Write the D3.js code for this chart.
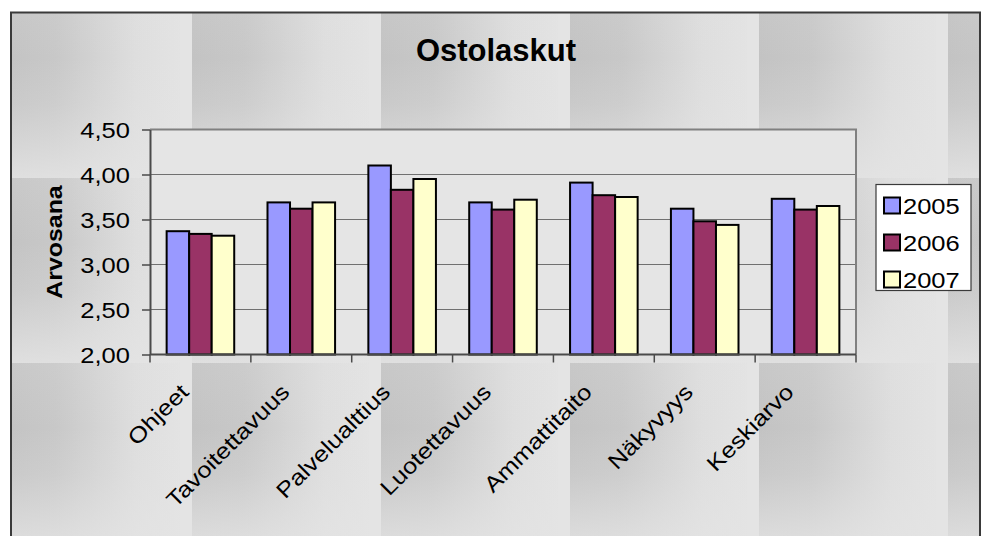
<!DOCTYPE html>
<html>
<head>
<meta charset="utf-8">
<script src="https://cdn.jsdelivr.net/npm/d3@7"></script>
<style>
  html, body { margin: 0; padding: 0; background: #ffffff; }
  svg { display: block; }
  text { font-family: "Liberation Sans", Arial, sans-serif; fill: #000; }
</style>
</head>
<body>
<svg id="chart" width="990" height="536"></svg>
<script>
const titleText = "Ostolaskut";
const yAxisTitle = "Arvosana";
const categories = ["Ohjeet", "Tavoitettavuus", "Palvelualttius", "Luotettavuus", "Ammattitaito", "Näkyvyys", "Keskiarvo"];
const seriesNames = ["2005", "2006", "2007"];
const values2005 = [3.37, 3.69, 4.10, 3.69, 3.91, 3.62, 3.73];
const values2006 = [3.34, 3.62, 3.83, 3.61, 3.77, 3.48, 3.61];
const values2007 = [3.32, 3.69, 3.95, 3.72, 3.75, 3.44, 3.65];
const yTicks = [2.0, 2.5, 3.0, 3.5, 4.0, 4.5];
const seriesColors = ["#9999ff", "#993366", "#ffffcc"];

const seriesValues = [values2005, values2006, values2007];
const rows = categories.map((c, i) => ({
  cat: c,
  vals: seriesNames.map((s, j) => ({ s, j, v: seriesValues[j][i] }))
}));

const svg = d3.select("#chart");
const defs = svg.append("defs");

// background texture tile
const hg = defs.append("linearGradient").attr("id", "tileH")
  .attr("x1", 0).attr("y1", 0).attr("x2", 1).attr("y2", 0);
hg.append("stop").attr("offset", 0).attr("stop-color", "#c3c3c3");
hg.append("stop").attr("offset", 0.3).attr("stop-color", "#c8c8c8");
hg.append("stop").attr("offset", 0.75).attr("stop-color", "#dedede");
hg.append("stop").attr("offset", 1).attr("stop-color", "#e3e3e3");
const vg = defs.append("linearGradient").attr("id", "tileV")
  .attr("x1", 0).attr("y1", 0).attr("x2", 0).attr("y2", 1);
vg.append("stop").attr("offset", 0).attr("stop-color", "#e4e4e4").attr("stop-opacity", 0.15);
vg.append("stop").attr("offset", 0.35).attr("stop-color", "#e4e4e4").attr("stop-opacity", 0);
vg.append("stop").attr("offset", 0.6).attr("stop-color", "#e4e4e4").attr("stop-opacity", 0.2);
vg.append("stop").attr("offset", 1).attr("stop-color", "#e4e4e4").attr("stop-opacity", 0.85);
const pat = defs.append("pattern").attr("id", "bgTile")
  .attr("patternUnits", "userSpaceOnUse")
  .attr("x", 3).attr("y", -7).attr("width", 189).attr("height", 185);
pat.append("rect").attr("width", 189).attr("height", 185).attr("fill", "#e4e4e4");
pat.append("rect").attr("width", 177).attr("height", 185).attr("fill", "url(#tileH)");
pat.append("rect").attr("width", 177).attr("height", 185).attr("fill", "url(#tileV)");

// chart area
svg.append("rect").attr("x", 0).attr("y", 0).attr("width", 990).attr("height", 536).attr("fill", "#ffffff");
svg.append("rect").attr("x", 11).attr("y", 12.5).attr("width", 969).attr("height", 540)
  .attr("fill", "url(#bgTile)").attr("stroke", "#3a3a3a").attr("stroke-width", 2);

const pLeft = 150, pRight = 856, pTop = 129.5, pBottom = 354.5;

const x = d3.scaleBand().domain(categories).range([pLeft, pRight]).paddingInner(0.33).paddingOuter(0.165);
const xSub = d3.scaleBand().domain(seriesNames).range([0, x.bandwidth()]);
const y = d3.scaleLinear().domain([2, 4.5]).range([pBottom, pTop]);

// plot area
svg.append("rect").attr("x", pLeft).attr("y", pTop).attr("width", pRight - pLeft).attr("height", pBottom - pTop)
  .attr("fill", "#e5e5e5");

// gridlines
svg.append("g").selectAll("line").data(yTicks.filter(d => d > 2)).join("line")
  .attr("x1", pLeft).attr("x2", pRight)
  .attr("y1", d => y(d)).attr("y2", d => y(d))
  .attr("stroke", "#707070").attr("stroke-width", 1.2);

// plot border top/right
svg.append("path")
  .attr("d", `M${pLeft},${pTop}H${pRight}V${pBottom}`)
  .attr("fill", "none").attr("stroke", "#808080").attr("stroke-width", 2);

// bars
const groups = svg.append("g").selectAll("g").data(rows).join("g")
  .attr("transform", d => `translate(${x(d.cat)},0)`);
groups.selectAll("rect").data(d => d.vals).join("rect")
  .attr("x", d => xSub(d.s))
  .attr("width", xSub.bandwidth())
  .attr("y", d => y(d.v))
  .attr("height", d => y(2) - y(d.v))
  .attr("fill", d => seriesColors[d.j])
  .attr("stroke", "#000").attr("stroke-width", 2);

// y axis
const yAxis = svg.append("g").attr("transform", `translate(${pLeft},0)`)
  .call(d3.axisLeft(y).tickValues(yTicks).tickSize(8).tickSizeOuter(0)
    .tickFormat(d => d.toFixed(2).replace(".", ",")));
yAxis.select(".domain").attr("stroke", "#4a4a4a").attr("stroke-width", 2);
yAxis.selectAll(".tick line").attr("stroke", "#4a4a4a").attr("stroke-width", 1.5);
yAxis.selectAll(".tick text")
  .attr("x", null).attr("dy", null)
  .attr("font-size", 22).attr("text-anchor", "end")
  .attr("transform", "translate(-20,8) scale(1.16,1)")
  .style("font-family", "'Liberation Sans', Arial, sans-serif");

// x axis
const xAxis = svg.append("g").attr("transform", `translate(0,${pBottom})`);
xAxis.append("line").attr("x1", pLeft).attr("x2", pRight).attr("y1", 0).attr("y2", 0)
  .attr("stroke", "#4a4a4a").attr("stroke-width", 2);
const boundaries = d3.range(categories.length + 1).map(i => pLeft + i * x.step());
xAxis.selectAll("line.tk").data(boundaries).join("line").attr("class", "tk")
  .attr("x1", d => d).attr("x2", d => d).attr("y1", 0).attr("y2", 8)
  .attr("stroke", "#4a4a4a").attr("stroke-width", 1.5);

svg.append("g").selectAll("text").data(categories).join("text")
  .attr("transform", d => `translate(${x(d) + x.bandwidth() / 2 - 10.5},${pBottom + 39}) rotate(-45) scale(1.16,1)`)
  .attr("text-anchor", "end")
  .attr("font-size", 22)
  .text(d => d);

// y axis title
svg.append("text")
  .attr("transform", "translate(62,242) rotate(-90) scale(1.13,1)")
  .attr("text-anchor", "middle")
  .attr("font-size", 22).attr("font-weight", "bold")
  .text(yAxisTitle);

// title
svg.append("text").attr("x", 496).attr("y", 60.5)
  .attr("text-anchor", "middle").attr("font-size", 31).attr("font-weight", "bold")
  .text(titleText);

// legend
const lg = svg.append("g");
lg.append("rect").attr("x", 876).attr("y", 184.5).attr("width", 95).attr("height", 106)
  .attr("fill", "#ffffff").attr("stroke", "#3a3a3a").attr("stroke-width", 1.2);
const items = lg.selectAll("g.item").data(seriesNames).join("g").attr("class", "item")
  .attr("transform", (d, i) => `translate(884,${205.5 + i * 37})`);
items.append("rect").attr("x", 0).attr("y", -8).attr("width", 16).attr("height", 16)
  .attr("fill", (d, i) => seriesColors[i]).attr("stroke", "#000").attr("stroke-width", 2);
items.append("text").attr("transform", "translate(19,8) scale(1.16,1)")
  .attr("font-size", 22).text(d => d);
</script>
</body>
</html>
